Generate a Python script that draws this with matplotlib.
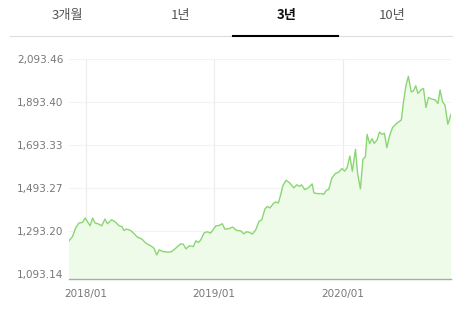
import numpy as np
import matplotlib
matplotlib.use('Agg')
import matplotlib.pyplot as plt
import matplotlib.dates as mdates
from matplotlib.lines import Line2D

########### data ###########

dates = ['2017-11-15', '2017-11-25', '2017-12-04', '2017-12-13', '2017-12-23', '2017-12-31',
	'2018-01-06', '2018-01-14', '2018-01-21', '2018-01-28', '2018-02-05', '2018-02-16',
	'2018-02-25', '2018-03-04', '2018-03-16', '2018-03-28', '2018-04-06', '2018-04-14',
	'2018-04-20', '2018-04-27', '2018-05-09', '2018-05-19', '2018-05-28', '2018-06-10',
	'2018-06-21', '2018-07-05', '2018-07-14', '2018-07-22', '2018-07-29', '2018-08-09',
	'2018-08-24', '2018-09-02', '2018-09-14', '2018-09-28', '2018-10-05', '2018-10-13',
	'2018-10-22', '2018-11-03', '2018-11-10', '2018-11-17', '2018-11-24', '2018-12-03',
	'2018-12-12', '2018-12-22', '2019-01-06', '2019-01-15', '2019-01-24', '2019-01-31',
	'2019-02-12', '2019-02-22', '2019-03-06', '2019-03-17', '2019-03-26', '2019-04-03',
	'2019-04-12', '2019-04-19', '2019-04-29', '2019-05-08', '2019-05-16', '2019-05-25',
	'2019-06-01', '2019-06-08', '2019-06-17', '2019-06-24', '2019-07-02', '2019-07-08',
	'2019-07-15', '2019-07-24', '2019-08-03', '2019-08-15', '2019-08-23', '2019-08-31',
	'2019-09-06', '2019-09-15', '2019-09-25', '2019-10-06', '2019-10-11', '2019-10-20',
	'2019-11-01', '2019-11-08', '2019-11-15', '2019-11-22', '2019-12-01', '2019-12-11',
	'2019-12-20', '2019-12-30', '2020-01-06', '2020-01-13', '2020-01-21', '2020-01-28',
	'2020-02-06', '2020-02-12', '2020-02-20', '2020-02-27', '2020-03-05', '2020-03-10',
	'2020-03-17', '2020-03-24', '2020-03-30', '2020-04-07', '2020-04-14', '2020-04-21',
	'2020-04-28', '2020-05-05', '2020-05-13', '2020-05-21', '2020-06-02', '2020-06-15',
	'2020-06-21', '2020-06-28', '2020-07-05', '2020-07-13', '2020-07-19', '2020-07-26',
	'2020-08-01', '2020-08-10', '2020-08-17', '2020-08-24', '2020-08-31', '2020-09-10',
	'2020-09-19', '2020-09-27', '2020-10-03', '2020-10-10', '2020-10-17', '2020-10-25',
	'2020-11-03']

values = [1247.4, 1267.5, 1308.2, 1330.1, 1333.0, 1353.5,
	1337.6, 1317.5, 1353.5, 1330.1, 1326.9, 1317.5,
	1348.8, 1326.9, 1345.6, 1333.0, 1317.5, 1314.2,
	1295.5, 1302.1, 1295.5, 1280.1, 1264.7, 1255.3,
	1236.6, 1224.0, 1213.3, 1181.9, 1205.3, 1197.4,
	1194.6, 1197.4, 1213.3, 1233.4, 1232.0, 1210.0,
	1224.0, 1220.8, 1247.4, 1239.5, 1252.1, 1283.4,
	1289.5, 1283.4, 1317.5, 1318.9, 1326.9, 1302.1,
	1303.5, 1311.4, 1295.5, 1294.1, 1280.1, 1289.5,
	1286.2, 1278.7, 1298.8, 1337.6, 1345.6, 1395.6,
	1407.7, 1400.3, 1419.0, 1428.3, 1423.6, 1457.7,
	1504.5, 1529.3, 1517.1, 1493.7, 1507.8, 1501.2,
	1507.8, 1485.8, 1493.7, 1512.4, 1470.4, 1467.1,
	1467.1, 1463.7, 1482.5, 1485.8, 1540.5, 1560.6,
	1566.7, 1583.9, 1571.3, 1587.2, 1641.5, 1571.3,
	1672.8, 1560.6, 1489.1, 1626.0, 1638.6, 1742.9,
	1699.4, 1722.8, 1700.8, 1716.2, 1753.6, 1742.9,
	1747.6, 1680.7, 1738.2, 1774.2, 1794.3, 1809.7,
	1891.1, 1968.7, 2012.6, 1940.6, 1943.9, 1968.7,
	1933.2, 1950.0, 1956.5, 1867.7, 1914.5, 1906.5,
	1903.2, 1886.4, 1950.0, 1893.9, 1878.4, 1789.6,
	1836.4]

y_ticks = [1093.14, 1293.20, 1493.27, 1693.33, 1893.40, 2093.46]
x_ticks = ['2018-01-01', '2019-01-01', '2020-01-01']
x_tick_labels = ['2018/01', '2019/01', '2020/01']
tabs = ['3개월', '1년', '3년', '10년']
active_tab = '3년'

########### figure ###########

d = np.array(dates, dtype='datetime64[D]')
v = np.array(values)

fig = plt.figure(figsize=(4.67, 3.10), dpi=100)
ax = fig.add_axes([69/467, 31/310, 382/467, 220/310])

ax.fill_between(d, v, 0, color='#effbe9', lw=0)
ax.plot(d, v, color='#8ad673', lw=1)

ax.set_xlim(d[0], d[-1])
ax.set_ylim(1069.8, 2093.46)

ax.set_yticks(y_ticks)
ax.set_yticklabels(['{:,.2f}'.format(t) for t in y_ticks])
ax.set_xticks(np.array(x_ticks, dtype='datetime64[D]'))
ax.set_xticklabels(x_tick_labels)
ax.tick_params(length=0, labelsize=7.5, labelcolor='#777777', pad=4)
ax.tick_params(axis='x', pad=7)

ax.grid(axis='y', color='#f3f3f3', lw=0.8)
ax.grid(axis='x', color='#ececec', lw=0.8)
ax.set_axisbelow(True)
for s in ['top', 'right', 'left']:
	ax.spines[s].set_visible(False)
ax.spines['bottom'].set_color('#aaaaaa')
ax.spines['bottom'].set_linewidth(1)

########## tabs on top ##########

tab_x = [67.5, 181, 286.5, 392]
for t, x in zip(tabs, tab_x):
	fig.text(x/467, 1 - 15/310, t, ha='center', va='center', fontsize=9.5,
		family=['Noto Sans CJK KR', 'DejaVu Sans'],
		color='#111111' if t == active_tab else '#555555',
		fontweight='bold' if t == active_tab else 'normal')

fig.add_artist(Line2D([10/467, 452/467], [1 - 36/310, 1 - 36/310],
	transform=fig.transFigure, color='#dddddd', lw=0.8))
fig.add_artist(Line2D([233/467, 338/467], [1 - 36/310, 1 - 36/310],
	transform=fig.transFigure, color='#000000', lw=1.5))

plt.savefig('out.png', dpi=100)
